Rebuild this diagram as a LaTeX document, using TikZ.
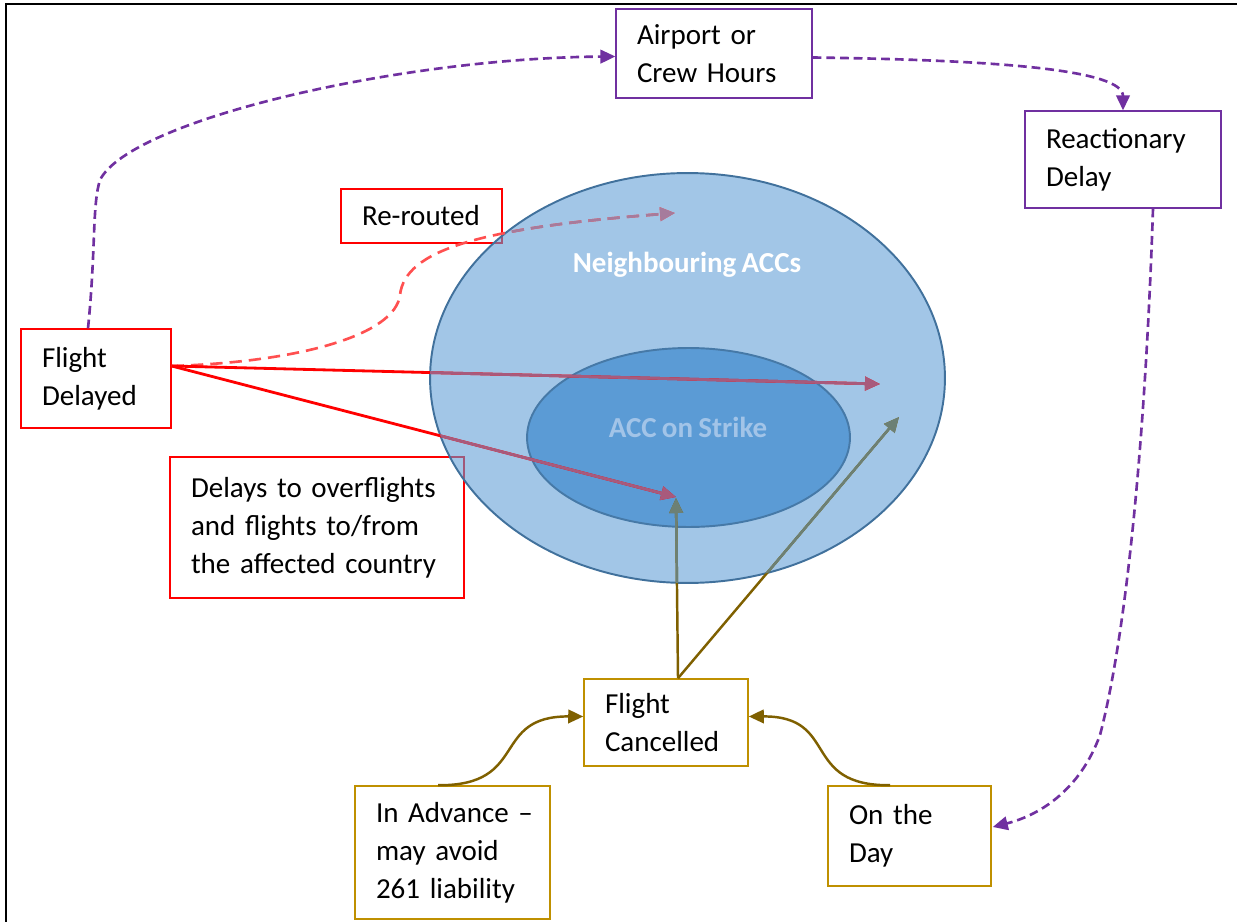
\documentclass[tikz,border=0pt]{standalone}
\usepackage{fontspec}
\setmainfont{Carlito}[WordSpace=0.8]
\usetikzlibrary{arrows.meta,calc}
\definecolor{accblue}{HTML}{5B9BD5}
\definecolor{accedge}{HTML}{41719C}
\definecolor{strikefont}{HTML}{A2C4E8}
\definecolor{delayred}{HTML}{FF0000}
\definecolor{dashred}{HTML}{FF5050}
\definecolor{mauve}{HTML}{A85A7C}
\definecolor{dashmauve}{HTML}{A67B9C}
\definecolor{crewpurple}{HTML}{7030A0}
\definecolor{cancelgold}{HTML}{BF9000}
\definecolor{cancelarrow}{HTML}{7F6000}
\definecolor{greygreen}{HTML}{6C8075}
\begin{document}
\begin{tikzpicture}[x=0.02cm,y=-0.02cm,
    box/.style={draw,inner xsep=0.42cm,inner ysep=0pt,align=left,
      font=\fontsize{16.5}{21.5}\selectfont},
    redbox/.style={box,draw=delayred,line width=0.8pt},
    purplebox/.style={box,draw=crewpurple,line width=0.7pt},
    goldbox/.style={box,draw=cancelgold,line width=0.9pt},
    tip/.style={-{Triangle[length=0.3cm,width=0.27cm]}},
    redline/.style={tip,draw=delayred,line width=1.6pt},
    reddash/.style={tip,draw=dashred,line width=1.5pt,dash pattern=on 7pt off 4pt},
    crewdash/.style={tip,draw=crewpurple,line width=1.5pt,dash pattern=on 5pt off 2.8pt},
    goldline/.style={tip,draw=cancelarrow,line width=1.4pt},
    area/.style={font=\fontsize{16.5}{20}\selectfont\bfseries}]
  \useasboundingbox (0,0) rectangle (1237,922);
  \draw[line width=1.2pt] (6,922) -- (6,4) -- (1237,4);

  \node[redbox,text width=2.16cm,minimum height=1.98cm] (delayed) at (96,378.5) {Flight\\Delayed};
  \node[redbox,text width=2.38cm,minimum height=1.08cm] (rerouted) at (421.5,216) {\mbox{Re-routed}};
  \node[purplebox,text width=3.08cm,minimum height=1.78cm] (airport) at (714,53.5) {Airport or\\Crew Hours};
  \node[purplebox,text width=3.08cm,minimum height=1.94cm] (reaction) at (1123,159.5) {Reactionary\\Delay};
  \node[redbox,line width=1.1pt,text width=5.04cm,minimum height=2.82cm] (overfl) at (317,527.5)
    {Delays to overflights\\and flights to/from\\the affected country};
  \node[goldbox,text width=2.44cm,minimum height=1.74cm] (cancel) at (666,722.5) {Flight\\Cancelled};
  \node[goldbox,text width=3.06cm,minimum height=2.66cm] (advance) at (452.5,852.5) {\mbox{In Advance --}\\may avoid\\261 liability};
  \node[goldbox,text width=2.42cm,minimum height=2cm] (onday) at (909.5,836) {On the\\Day};

  \fill[accblue,fill opacity=0.57] (687.5,378) ellipse [x radius=5.15cm,y radius=4.1cm];
  \draw[accedge,line width=1.1pt] (687.5,378) ellipse [x radius=5.15cm,y radius=4.1cm];
  \filldraw[fill=accblue,draw=accedge!80!accblue,line width=1.1pt] (688.5,437.5) ellipse [x radius=3.23cm,y radius=1.79cm];
  \node[area,text=white] (nbText) at (687,265) {Neighbouring ACCs};
  \node[area,text=strikefont] (strikeText) at (688,427) {ACC on Strike};

  \coordinate (fdTop) at ($(delayed.north)+(-8,0)$);
  \coordinate (fdSrc) at ($(delayed.east)+(0,-12.5)$);
  \coordinate (rdSrc) at ($(reaction.south)+(30,0)$);
  \coordinate (dayIn) at ($(onday.east)+(1,-9)$);
  \coordinate (cnSrc) at ($(cancel.north)+(12,0)$);
  \coordinate (advSrc) at ($(advance.north)+(-14.5,0)$);
  \coordinate (daySrc) at ($(onday.north)+(-19.5,0)$);
  \coordinate (nbTip) at (880,384);
  \coordinate (nbTipB) at (899,417);
  \coordinate (strikeTip) at (676,497);
  \coordinate (rrTip) at (675,213);

  \draw[crewdash] (fdTop) .. controls (96,250) and (92,205) .. (100,180)
    .. controls (130,120) and (400,58) .. ($(airport.west)+(0,3)$);
  \draw[crewdash] ($(airport.east)+(0,4)$) .. controls (1000,60) and (1123,70) .. (reaction.north);
  \draw[crewdash] (rdSrc) .. controls (1145,450) and (1125,640) .. (1100,735)
    .. controls (1080,790) and (1040,815) .. (dayIn);

  \draw[reddash] (fdSrc) .. controls (300,362) and (395,335) .. (400,295)
    .. controls (405,250) and (480,228) .. (rrTip);
  \draw[redline] (fdSrc) -- (nbTip);
  \draw[redline] (fdSrc) -- (strikeTip);
  \draw[goldline] (cnSrc) -- (strikeTip |- 0,498);
  \draw[goldline] (cnSrc) -- (nbTipB);
  \begin{scope}
    \clip (687.5,378) ellipse [x radius=5.15cm,y radius=4.1cm];
    \draw[reddash,draw=dashmauve] (fdSrc) .. controls (300,362) and (395,335) .. (400,295)
      .. controls (405,250) and (480,228) .. (rrTip);
    \draw[redline,draw=mauve] (fdSrc) -- (nbTip);
    \draw[redline,draw=mauve] (fdSrc) -- (strikeTip);
    \draw[goldline,draw=greygreen] (cnSrc) -- (strikeTip |- 0,498);
    \draw[goldline,draw=greygreen] (cnSrc) -- (nbTipB);
  \end{scope}

  \draw[goldline] (advSrc) .. controls (530,786) and (490,716) .. ($(cancel.west)+(0,-6)$);
  \draw[goldline] (daySrc) .. controls (800,786) and (840,716) .. ($(cancel.east)+(0,-6)$);
\end{tikzpicture}
\end{document}
